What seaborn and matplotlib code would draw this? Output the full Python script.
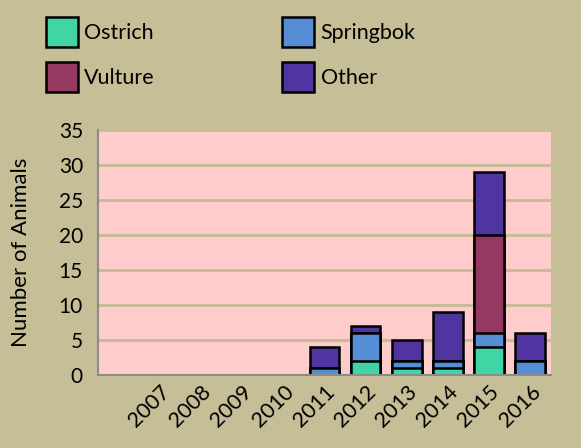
import numpy as np
import pandas as pd
import matplotlib
matplotlib.use("Agg")
import matplotlib.pyplot as plt
import seaborn as sns

# the source chart has one empty, unlabelled category before 2007
years = [" ", "2007", "2008", "2009", "2010", "2011", "2012", "2013", "2014", "2015", "2016"]
ostrich = [0, 0, 0, 0, 0, 0, 2, 1, 1, 4, 0]
springbok = [0, 0, 0, 0, 0, 1, 4, 1, 1, 2, 2]
vulture = [0, 0, 0, 0, 0, 0, 0, 0, 0, 14, 0]
other = [0, 0, 0, 0, 0, 3, 1, 3, 7, 9, 4]

series = ["Ostrich", "Springbok", "Vulture", "Other"]
colors = ["#41D5A6", "#558ED5", "#953963", "#5035A0"]

df = pd.DataFrame({"year": years, "Ostrich": ostrich, "Springbok": springbok,
                   "Vulture": vulture, "Other": other})
# cumulative tops, drawn from the top segment down so lower ones overlay
cum = df[series].cumsum(axis=1)
cum = cum.replace(0, np.nan)
cum["year"] = years

bg = "#C5BE97"
sns.set_style("white")
plt.rcParams["font.family"] = ["Lato", "DejaVu Sans"]
plt.rcParams["text.color"] = "black"
plt.rcParams["axes.labelcolor"] = "black"
plt.rcParams["xtick.labelcolor"] = "black"
plt.rcParams["ytick.labelcolor"] = "black"

fig = plt.figure(figsize=(5.81, 4.48), dpi=100, facecolor=bg)
ax = fig.add_axes([0.169, 0.163, 0.779, 0.547])
ax.set_facecolor("#FFCCCC")

for name, col in reversed(list(zip(series, colors))):
    sns.barplot(data=cum, x="year", y=name, order=years, color=col, saturation=1,
                width=0.72, edgecolor="black", linewidth=1.8, ax=ax, label=name)

n = len(years)
ax.set_ylim(0, 35)
ax.set_xlim(-0.5, n - 0.5)
ax.set_yticks(range(0, 36, 5))
ax.yaxis.grid(True, color="#C4BC94", linewidth=2)
ax.set_axisbelow(True)
for s in ["top", "right"]:
    ax.spines[s].set_visible(False)
for s in ["left", "bottom"]:
    ax.spines[s].set_color("#8C8C8C")
    ax.spines[s].set_linewidth(1.5)

ax.set_xticks(np.arange(-0.5, n, 1), minor=True)
ax.tick_params(axis="x", which="major", length=0, pad=5)
ax.tick_params(axis="x", which="minor", length=6, color="#8C8C8C", width=1.5, direction="out")
ax.tick_params(axis="y", length=6, color="#8C8C8C", width=1.5, direction="out", labelsize=15, pad=5)
ax.set_xticks(range(n))
ax.set_xticklabels(years, rotation=45, ha="right", va="top", rotation_mode="anchor", fontsize=15.5)
ax.set_xlabel("")
ax.set_ylabel("Number of Animals", fontsize=16, labelpad=20)

handles, labels = ax.get_legend_handles_labels()
hl = dict(zip(labels, handles))
if ax.get_legend():
    ax.get_legend().remove()
leg_order = ["Ostrich", "Vulture", "Springbok", "Other"]
fig.legend([hl[s] for s in leg_order], leg_order, ncol=2, loc="upper left",
           bbox_to_anchor=(0.045, 1.005), frameon=False, fontsize=15.5,
           handlelength=1.5, handleheight=1.75, handletextpad=0.3,
           labelspacing=0.7, columnspacing=5.9)

fig.savefig("out.png", dpi=100, facecolor=bg)
